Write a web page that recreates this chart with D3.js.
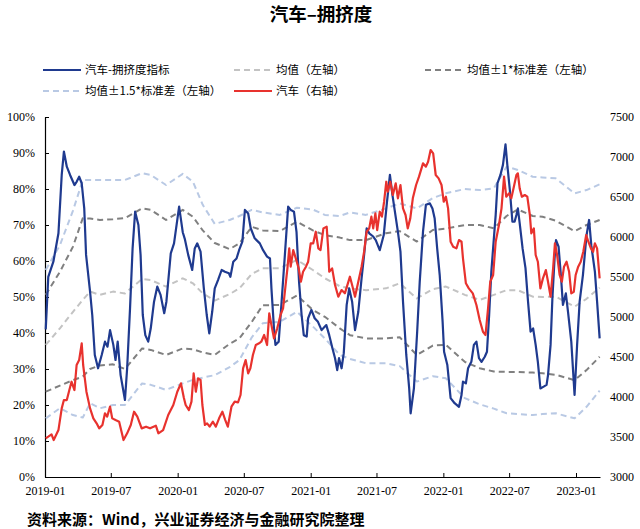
<!DOCTYPE html>
<html><head><meta charset="utf-8">
<script src="https://cdn.jsdelivr.net/npm/d3@7"></script>
<style>
body{margin:0;background:#fff;}
svg{display:block;}
</style></head>
<body>
<svg id="chart" width="640" height="529"></svg>
<script>
// ---------- data ----------
const congestion = [
["2019-01-03",41],["2019-01-10",55.6],["2019-01-24",59.8],["2019-02-07",67.7],["2019-02-16",83.9],["2019-02-22",90.4],
["2019-03-02",86.2],["2019-03-11",83.9],["2019-03-23",81.1],["2019-03-29",82],["2019-04-05",83.4],["2019-04-12",81.6],
["2019-04-19",74.6],["2019-04-24",61.7],["2019-05-05",51.5],["2019-05-11",45],["2019-05-18",33.9],["2019-05-27",30.2],
["2019-06-06",33.9],["2019-06-15",37.6],["2019-06-22",36.2],["2019-06-29",40.8],["2019-07-08",36.7],["2019-07-14",32.5],
["2019-07-20",37.6],["2019-07-28",28.3],["2019-08-09",21.4],["2019-08-15",30.2],["2019-08-23",46.9],["2019-08-30",63.5],
["2019-09-06",73.7],["2019-09-15",70],["2019-09-21",61.7],["2019-09-27",45],["2019-10-04",39.4],["2019-10-12",37.6],
["2019-10-19",41.3],["2019-10-28",48.7],["2019-11-06",52.9],["2019-11-15",50.6],["2019-11-25",45.5],["2019-12-01",48.7],
["2019-12-13",62.1],["2019-12-22",64.9],["2020-01-05",75.1],["2020-01-15",68],["2020-01-21",66],["2020-01-30",61.7],
["2020-02-10",57.5],["2020-02-17",63.5],["2020-02-24",64.9],["2020-03-04",62.6],["2020-03-13",52.4],["2020-03-21",45],
["2020-03-28",39.9],["2020-04-05",45.9],["2020-04-12",52.4],["2020-04-21",54.7],["2020-05-01",57.5],["2020-05-10",57],
["2020-05-21",56.6],["2020-05-25",55.6],["2020-06-02",59.8],["2020-06-11",60.7],["2020-06-18",63],["2020-06-27",65.4],
["2020-07-04",74.2],["2020-07-13",73.2],["2020-07-20",69.1],["2020-07-31",66.3],["2020-08-14",64.9],["2020-08-23",63],
["2020-09-03",61.2],["2020-09-11",60.7],["2020-09-15",52.4],["2020-09-22",41.3],["2020-09-26",36.7],["2020-10-05",37.6],
["2020-10-13",48.7],["2020-10-22",61.7],["2020-10-31",75.1],["2020-11-07",74.2],["2020-11-16",73.7],["2020-11-23",68.1],
["2020-11-30",54.2],["2020-12-07",45],["2020-12-13",39.4],["2020-12-21",39],["2020-12-25",44.1],["2021-01-03",46.4],
["2021-01-12",44.1],["2021-01-21",43.1],["2021-01-31",40.8],["2021-02-09",41.8],["2021-02-13",42.2],["2021-02-21",39.4],
["2021-03-02",35.7],["2021-03-09",33],["2021-03-15",29.7],["2021-03-20",33],["2021-03-27",30.2],["2021-04-02",34.4],
["2021-04-10",47.8],["2021-04-17",52.4],["2021-04-25",48.7],["2021-05-03",40.8],["2021-05-12",45.9],["2021-05-21",55.2],
["2021-05-28",61.7],["2021-06-04",69.1],["2021-06-11",67.7],["2021-06-22",66.8],["2021-06-29",65.8],["2021-07-10",63],
["2021-07-21",67.2],["2021-07-30",76.5],["2021-08-07",83.9],["2021-08-14",78.3],["2021-08-20",74.2],["2021-08-29",68.1],
["2021-09-05",62.6],["2021-09-12",48.7],["2021-09-21",33.9],["2021-09-29",24.6],["2021-10-03",17.7],["2021-10-12",24.6],
["2021-10-21",40.4],["2021-10-28",54.2],["2021-11-06",68.1],["2021-11-14",75.6],["2021-11-25",76],["2021-12-02",74.6],
["2021-12-08",71.9],["2021-12-15",63.5],["2021-12-22",56.1],["2021-12-30",43.1],["2022-01-03",34.8],["2022-01-12",31.1],
["2022-01-21",21.9],["2022-02-01",20.5],["2022-02-13",19.5],["2022-02-20",22.8],["2022-02-24",26.5],["2022-03-04",26],
["2022-03-10",30.2],["2022-03-19",32],["2022-03-26",36.7],["2022-04-02",37.6],["2022-04-09",33],["2022-04-16",32],
["2022-04-25",33.4],["2022-05-01",34.8],["2022-05-07",45],["2022-05-13",57],["2022-05-20",66.3],["2022-05-25",72.8],
["2022-05-30",81.6],["2022-06-07",83.9],["2022-06-14",86.7],["2022-06-21",92.4],["2022-06-26",86.7],["2022-07-03",79.7],
["2022-07-10",70.9],["2022-07-16",70.9],["2022-07-21",72.8],["2022-07-25",74.6],["2022-07-30",70.5],["2022-08-07",63.5],
["2022-08-15",58],["2022-08-22",48.7],["2022-08-29",40.4],["2022-09-05",41.3],["2022-09-12",36.7],["2022-09-18",32],
["2022-09-25",24.6],["2022-10-04",25.1],["2022-10-12",25.6],["2022-10-16",28.3],["2022-10-23",36.7],["2022-10-28",49.6],
["2022-11-03",60.7],["2022-11-07",65.8],["2022-11-14",64],["2022-11-21",55.2],["2022-11-26",47.8],["2022-12-04",51],
["2022-12-10",45.9],["2022-12-19",37.6],["2022-12-28",22.8],["2023-01-04",36.7],["2023-01-11",48.7],["2023-01-20",56.1],
["2023-01-30",67.2],["2023-02-06",71.4],["2023-02-12",64.4],["2023-02-22",57],["2023-02-28",48.7],["2023-03-07",38.5]
];

const autoIndex = [
["2019-01-03",3483],["2019-01-10",3504],["2019-01-19",3533],["2019-01-25",3462],["2019-02-07",3587],["2019-02-16",3858],
["2019-02-22",3962],["2019-03-02",3962],["2019-03-09",4087],["2019-03-15",4191],["2019-03-23",4087],["2019-03-29",4400],
["2019-04-05",4462],["2019-04-12",4671],["2019-04-16",4400],["2019-04-25",4066],["2019-05-05",3858],["2019-05-14",3733],
["2019-05-23",3671],["2019-05-30",3608],["2019-06-08",3650],["2019-06-15",3796],["2019-06-21",3754],["2019-06-29",3879],
["2019-07-05",3733],["2019-07-14",3712],["2019-07-24",3691],["2019-08-05",3462],["2019-08-15",3546],["2019-08-25",3650],
["2019-09-03",3816],["2019-09-12",3754],["2019-09-24",3608],["2019-10-06",3629],["2019-10-17",3608],["2019-11-02",3641],
["2019-11-09",3546],["2019-11-22",3587],["2019-12-06",3775],["2019-12-20",3900],["2019-12-31",4066],["2020-01-10",4171],
["2020-01-18",3990],["2020-01-23",3900],["2020-02-01",3837],["2020-02-08",3942],["2020-02-14",4296],["2020-02-20",4066],
["2020-02-26",4233],["2020-03-04",4212],["2020-03-09",3900],["2020-03-16",3650],["2020-03-22",3671],["2020-03-29",3629],
["2020-04-07",3691],["2020-04-15",3629],["2020-04-24",3733],["2020-05-03",3816],["2020-05-11",3712],["2020-05-18",3629],
["2020-05-28",3879],["2020-06-06",3942],["2020-06-15",3933],["2020-06-22",4025],["2020-06-29",4358],["2020-07-06",4462],
["2020-07-13",4296],["2020-07-19",4358],["2020-07-26",4525],["2020-08-03",4650],["2020-08-12",4671],["2020-08-18",4691],
["2020-08-26",4775],["2020-09-03",4650],["2020-09-09",5046],["2020-09-15",4900],["2020-09-22",4733],["2020-10-01",4858],
["2020-10-10",5025],["2020-10-17",5108],["2020-10-25",5441],["2020-10-29",5608],["2020-11-03",5858],["2020-11-07",5629],
["2020-11-14",5837],["2020-11-21",5733],["2020-11-29",5608],["2020-12-05",5441],["2020-12-11",5566],["2020-12-19",5629],
["2020-12-25",5691],["2021-01-01",5921],["2021-01-08",5921],["2021-01-15",6066],["2021-01-22",5858],["2021-01-28",5837],
["2021-02-05",6108],["2021-02-14",6129],["2021-02-18",5858],["2021-02-21",5566],["2021-03-01",5608],["2021-03-09",5400],
["2021-03-18",5254],["2021-03-27",5337],["2021-04-05",5296],["2021-04-19",5504],["2021-04-25",5400],["2021-05-03",5254],
["2021-05-12",5441],["2021-05-21",5629],["2021-05-28",5816],["2021-06-04",6066],["2021-06-11",6108],["2021-06-17",6254],
["2021-06-22",6108],["2021-06-28",6296],["2021-07-03",6087],["2021-07-10",6316],["2021-07-16",6254],["2021-07-22",6441],
["2021-07-28",6691],["2021-08-01",6566],["2021-08-08",6691],["2021-08-15",6525],["2021-08-23",6671],["2021-08-29",6483],
["2021-09-05",6650],["2021-09-12",6358],["2021-09-19",6275],["2021-09-25",6108],["2021-10-02",6233],["2021-10-09",6483],
["2021-10-18",6650],["2021-10-26",6754],["2021-11-06",6921],["2021-11-14",6879],["2021-11-20",6941],["2021-11-27",7087],
["2021-12-04",7046],["2021-12-11",6775],["2021-12-19",6733],["2021-12-27",6650],["2022-01-02",6441],["2022-01-08",6504],
["2022-01-14",6358],["2022-01-21",5941],["2022-01-28",5879],["2022-02-06",5858],["2022-02-13",5962],["2022-02-20",5941],
["2022-02-24",5733],["2022-03-04",5421],["2022-03-12",5358],["2022-03-23",5296],["2022-04-02",5150],["2022-04-11",4962],
["2022-04-20",4816],["2022-04-27",4775],["2022-05-04",5108],["2022-05-10",5441],["2022-05-18",5525],["2022-05-25",5941],
["2022-06-03",6150],["2022-06-10",6358],["2022-06-17",6754],["2022-06-23",6504],["2022-07-01",6546],["2022-07-07",6483],
["2022-07-14",6629],["2022-07-21",6775],["2022-07-25",6796],["2022-07-30",6608],["2022-08-05",6504],["2022-08-13",6525],
["2022-08-20",6504],["2022-08-27",6275],["2022-08-31",6046],["2022-09-07",6108],["2022-09-12",5775],["2022-09-18",5691],
["2022-09-25",5358],["2022-10-02",5483],["2022-10-10",5587],["2022-10-16",5441],["2022-10-23",5254],["2022-10-30",5608],
["2022-11-04",5921],["2022-11-10",5775],["2022-11-17",5525],["2022-11-23",5441],["2022-11-29",5629],["2022-12-06",5691],
["2022-12-13",5566],["2022-12-19",5296],["2022-12-26",5316],["2022-12-31",5525],["2023-01-07",5629],["2023-01-14",5691],
["2023-01-21",5816],["2023-01-29",6025],["2023-02-04",5941],["2023-02-11",5858],["2023-02-17",5816],["2023-02-22",5921],
["2023-02-28",5858],["2023-03-07",5483]
];

const bandDates = ["2019-01-03","2019-02-11","2019-03-19","2019-04-15","2019-05-05","2019-06-01","2019-07-07","2019-08-09",
"2019-09-25","2019-10-19","2019-11-30","2020-01-15","2020-02-12","2020-03-10","2020-04-12","2020-05-23","2020-06-19",
"2020-07-23","2020-08-22","2020-10-08","2020-11-24","2021-01-07","2021-02-09","2021-03-22","2021-04-19","2021-06-02",
"2021-07-27","2021-09-03","2021-10-20","2021-12-03","2022-01-08","2022-03-01","2022-04-11","2022-05-20","2022-06-24",
"2022-07-25","2022-09-04","2022-10-01","2022-11-06","2022-12-28","2023-01-30","2023-03-07"];
const meanVals = [36.7,41.3,45.9,49.2,51.5,50.6,51.5,51,55,54.7,52.9,55.2,53.8,51,49,50.8,52.4,56.4,58,58,60.3,57.5,55.2,
53,52.4,51.9,52.4,53.8,49.6,52.2,52.9,50.6,49.2,50.6,51.9,51.9,50.1,50,50.1,47.3,49.5,52.6];
const plus1Vals = [50.6,57,64,71.9,71.8,71.4,71.6,71.9,74.6,74.2,71.4,74.2,72.3,68.5,65,63.3,64.9,69.5,68.5,68.3,70.9,68.5,
67.2,66.5,65.8,65.8,67.7,68.3,65.4,68.6,69,70,70,69.1,72.5,74.3,72.5,72.3,71.2,68.3,70,71.4];
const minus1Vals = [23.7,25.4,26.9,27.9,30,31,31.3,30,35.7,35.3,33.9,35.7,35.5,34.6,33.9,37,38.5,43.1,47.7,47.8,50.4,46.4,
44.5,41.3,39.4,38.5,38.5,38.8,33.9,36.5,36.7,32,30.2,29.3,29.2,29.2,29,28.8,28.4,26.9,29.7,33.4];
const plus15Vals = [57.5,64.4,74,82.5,82.5,82.5,82.5,82.5,84.4,83.9,81.1,84.2,82,75.6,70.3,71.4,72.5,74.2,73.5,72.8,74.8,
74.3,72.8,72.5,73.5,72.8,74.6,76,74.6,77.5,78.8,80,79.7,80.2,86.2,85.3,83.4,83.2,83,78.8,79.7,81.3];
const minus15Vals = [16.3,19.1,17.2,16.5,20.5,19.1,20,20,26,25.6,24.2,26,27,27.6,28.3,30.5,32.5,38.8,42.7,43.1,45.9,41.8,
38.5,33.9,32.8,31.6,31.6,30.8,26.5,28,27.4,21.9,20.2,19,17.7,17.5,17.2,17.5,17.7,16.3,19.5,24];

const leftTicks = [0,10,20,30,40,50,60,70,80,90,100];
const rightTicks = [3000,3500,4000,4500,5000,5500,6000,6500,7000,7500];
const xTickLabels = ["2019-01","2019-07","2020-01","2020-07","2021-01","2021-07","2022-01","2022-07","2023-01"];

const titleText = "汽车–拥挤度";
const legendItems = [
  {name:"汽车-拥挤度指标", key:"blue"},
  {name:"均值（左轴）", key:"mean"},
  {name:"均值±1*标准差（左轴）", key:"sd1"},
  {name:"均值±1.5*标准差（左轴）", key:"sd15"},
  {name:"汽车（右轴）", key:"red"}
];
const sourceText = "资料来源：Wind，兴业证券经济与金融研究院整理";

// ---------- styles ----------
const styles = {
  blue:{color:"#1f3a8f", width:2.2, dash:null},
  mean:{color:"#c3c3c3", width:2, dash:"6,4"},
  sd1:{color:"#808080", width:2, dash:"6,4"},
  sd15:{color:"#b9c9e4", width:2, dash:"6,4"},
  red:{color:"#e8322e", width:2.2, dash:null}
};

// ---------- chart ----------
const svg = d3.select("#chart");
const parse = d3.timeParse("%Y-%m-%d");
const M = {left:45, right:600, top:117, bottom:477};
const serif = "'Liberation Serif','Times New Roman',serif";
const cjk = "'Noto Sans CJK SC','Noto Sans',sans-serif";

const x = d3.scaleTime().domain([parse("2019-01-01"), parse("2023-03-08")]).range([M.left, M.right]);
const yL = d3.scaleLinear().domain([0,100]).range([M.bottom, M.top]);
const yR = d3.scaleLinear().domain([3000,7500]).range([M.bottom, M.top]);

// title
svg.append("text").attr("x",321).attr("y",21).attr("text-anchor","middle")
  .attr("font-family",cjk).attr("font-weight","bold").attr("font-size",18.5).attr("fill","#000").text(titleText);

// axes
const xTickDates = xTickLabels.map(s => parse(s + "-01"));
const xAxis = d3.axisBottom(x).tickValues(xTickDates).tickFormat(d3.timeFormat("%Y-%m")).tickSizeInner(-4).tickSizeOuter(0).tickPadding(9);
const gx = svg.append("g").attr("transform",`translate(0,${M.bottom})`).call(xAxis);
gx.select(".domain").attr("stroke","#000").attr("stroke-width",1.2);
gx.selectAll(".tick line").attr("stroke","#000");
gx.selectAll("text").attr("font-family",serif).attr("font-size",12).attr("fill","#000");

const yAxisL = d3.axisLeft(yL).tickValues(leftTicks).tickFormat(d => d + "%").tickSizeInner(-4).tickSizeOuter(0).tickPadding(10);
const gyl = svg.append("g").attr("transform",`translate(${M.left},0)`).call(yAxisL);
gyl.select(".domain").attr("stroke","#000").attr("stroke-width",1.2);
gyl.selectAll(".tick line").attr("stroke","#000");
gyl.selectAll("text").attr("font-family",serif).attr("font-size",12).attr("fill","#000");

const yAxisR = d3.axisRight(yR).tickValues(rightTicks).tickFormat(d3.format("d")).tickSize(0).tickPadding(10);
const gyr = svg.append("g").attr("transform",`translate(${M.right},0)`).call(yAxisR);
gyr.select(".domain").remove();
gyr.selectAll("text").attr("font-family",serif).attr("font-size",12).attr("fill","#000");

// lines
const lineL = d3.line().x(d => x(parse(d[0]))).y(d => yL(d[1]));
const lineR = d3.line().x(d => x(parse(d[0]))).y(d => yR(d[1]));
function draw(data, gen, st){
  svg.append("path").datum(data).attr("d",gen).attr("fill","none")
    .attr("stroke",st.color).attr("stroke-width",st.width)
    .attr("stroke-dasharray",st.dash).attr("stroke-linejoin","round");
}
const band = vals => bandDates.map((d,i) => [d, vals[i]]);
draw(band(minus15Vals), lineL, styles.sd15);
draw(band(plus15Vals), lineL, styles.sd15);
draw(band(minus1Vals), lineL, styles.sd1);
draw(band(plus1Vals), lineL, styles.sd1);
draw(band(meanVals), lineL, styles.mean);
draw(congestion, lineL, styles.blue);
draw(autoIndex, lineR, styles.red);

// legend
const legendPos = [
  {x:43, y:70}, {x:234, y:70}, {x:425, y:70},
  {x:43, y:91}, {x:234, y:91}
];
legendItems.forEach((it,i) => {
  const p = legendPos[i], st = styles[it.key];
  svg.append("line").attr("x1",p.x).attr("x2",p.x+38).attr("y1",p.y).attr("y2",p.y)
    .attr("stroke",st.color).attr("stroke-width",st.width).attr("stroke-dasharray",st.dash);
  svg.append("text").attr("x",p.x+42).attr("y",p.y+4).attr("font-family",cjk).attr("font-size",11.5)
    .attr("fill","#000").text(it.name);
});

// source
svg.append("text").attr("x",27).attr("y",525).attr("font-family",cjk).attr("font-weight","bold")
  .attr("font-size",15).attr("fill","#000").text(sourceText);
</script>
</body></html>
